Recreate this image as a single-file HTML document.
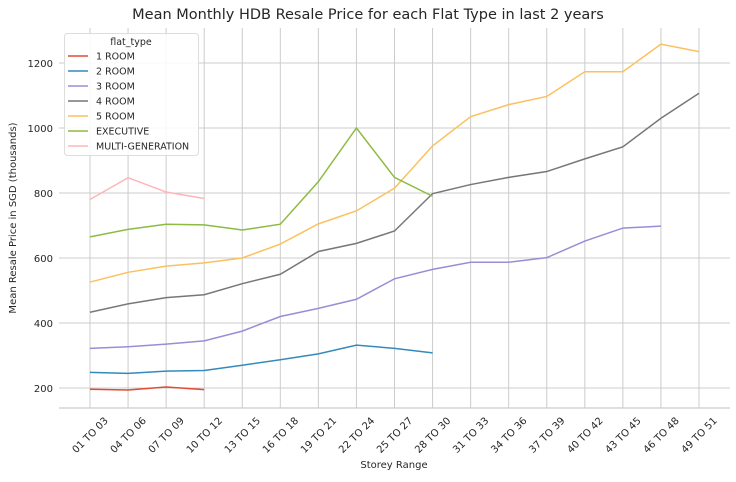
<!DOCTYPE html>
<html><head><meta charset="utf-8"><style>
body{margin:0;background:#fff;font-family:"Liberation Sans","DejaVu Sans",sans-serif}
svg text{font-family:"DejaVu Sans","Liberation Sans",sans-serif}
</style></head><body>
<svg id="c" width="736" height="477"></svg>
<script>
const categories=["01 TO 03","04 TO 06","07 TO 09","10 TO 12","13 TO 15","16 TO 18","19 TO 21","22 TO 24","25 TO 27","28 TO 30","31 TO 33","34 TO 36","37 TO 39","40 TO 42","43 TO 45","46 TO 48","49 TO 51"];
const seriesNames=["1 ROOM","2 ROOM","3 ROOM","4 ROOM","5 ROOM","EXECUTIVE","MULTI-GENERATION"];
const colors=["#e24a33","#348abd","#988ed5","#777777","#fbc15e","#8eba42","#ffb5b8"];
const room1=[196,194,203,195];
const room2=[248,245,252,254,270,287,305,332,322,308];
const room3=[322,327,335,345,375,420,445,473,536,565,587,587,601,652,692,698];
const room4=[433,459,478,487,521,550,620,645,683,798,826,848,866,905,942,1030,1107];
const room5=[526,556,575,585,600,643,705,745,815,945,1035,1072,1097,1173,1173,1258,1235];
const executive=[665,688,704,702,686,704,835,1000,848,790];
const multiGen=[780,847,803,783];
const yTicks=[200,400,600,800,1000,1200];
const series=[room1,room2,room3,room4,room5,executive,multiGen];

const svg=document.getElementById('c');
const NS='http://www.w3.org/2000/svg';
function mk(t,a,p){const e=document.createElementNS(NS,t);for(const k in a)e.setAttribute(k,a[k]);(p||svg).appendChild(e);return e;}
const L=59,R=730,T=28,B=408;
const xs=i=>90+i*(699-90)/(categories.length-1);
const ys=v=>388-(v-200)*65/200;

const t=mk('text',{x:368,y:19,'text-anchor':'middle','font-size':14.5,fill:'#262626'});t.textContent='Mean Monthly HDB Resale Price for each Flat Type in last 2 years';



categories.forEach((c,i)=>{
  const g=mk('line',{x1:xs(i),x2:xs(i),y1:T,y2:B,stroke:'#cccccc','stroke-width':1});
  
  
  const x=xs(i),cy=B+27;
  const lb=mk('text',{x:x,y:cy+3.5,'text-anchor':'middle','font-size':10,fill:'#262626',transform:`rotate(-45 ${x} ${cy})`});lb.textContent=c;
  
  
});
yTicks.forEach(v=>{
  const g=mk('line',{x1:L,x2:R,y1:ys(v),y2:ys(v),stroke:'#cccccc','stroke-width':1});
  
  
  const lb=mk('text',{x:L-6,y:ys(v)+4,'text-anchor':'end','font-size':10,fill:'#262626'});lb.textContent=v;
  
  
});
const ax=mk('line',{x1:L,x2:R,y1:B,y2:B,stroke:'#cccccc','stroke-width':1.2});


const xt=mk('text',{x:394,y:468,'text-anchor':'middle','font-size':10,fill:'#262626'});xt.textContent='Storey Range';


const yt=mk('text',{x:16,y:218,'text-anchor':'middle','font-size':10,fill:'#262626',transform:'rotate(-90 16 218)'});yt.textContent='Mean Resale Price in SGD (thousands)';



series.forEach((s,k)=>{
  const p=mk('polyline',{points:s.map((v,i)=>xs(i)+','+ys(v)).join(' '),fill:'none',stroke:colors[k],'stroke-width':1.5});
  
  
});

const lg=mk('g',{});


mk('rect',{x:64.5,y:33.5,width:134,height:122,rx:3,fill:'#fff','fill-opacity':0.85,stroke:'#dddddd'},lg);
const lt=mk('text',{x:131,y:45,'text-anchor':'middle','font-size':9.5,fill:'#262626'},lg);lt.textContent='flat_type';
seriesNames.forEach((n,k)=>{
  const y=56+k*15;
  const e=mk('g',{},lg);
  
  
  mk('line',{x1:68,x2:88,y1:y,y2:y,stroke:colors[k],'stroke-width':1.5},e);
  const tx=mk('text',{x:96,y:y+3.5,'font-size':9.5,fill:'#262626'},e);tx.textContent=n;
});
</script>
</body></html>
